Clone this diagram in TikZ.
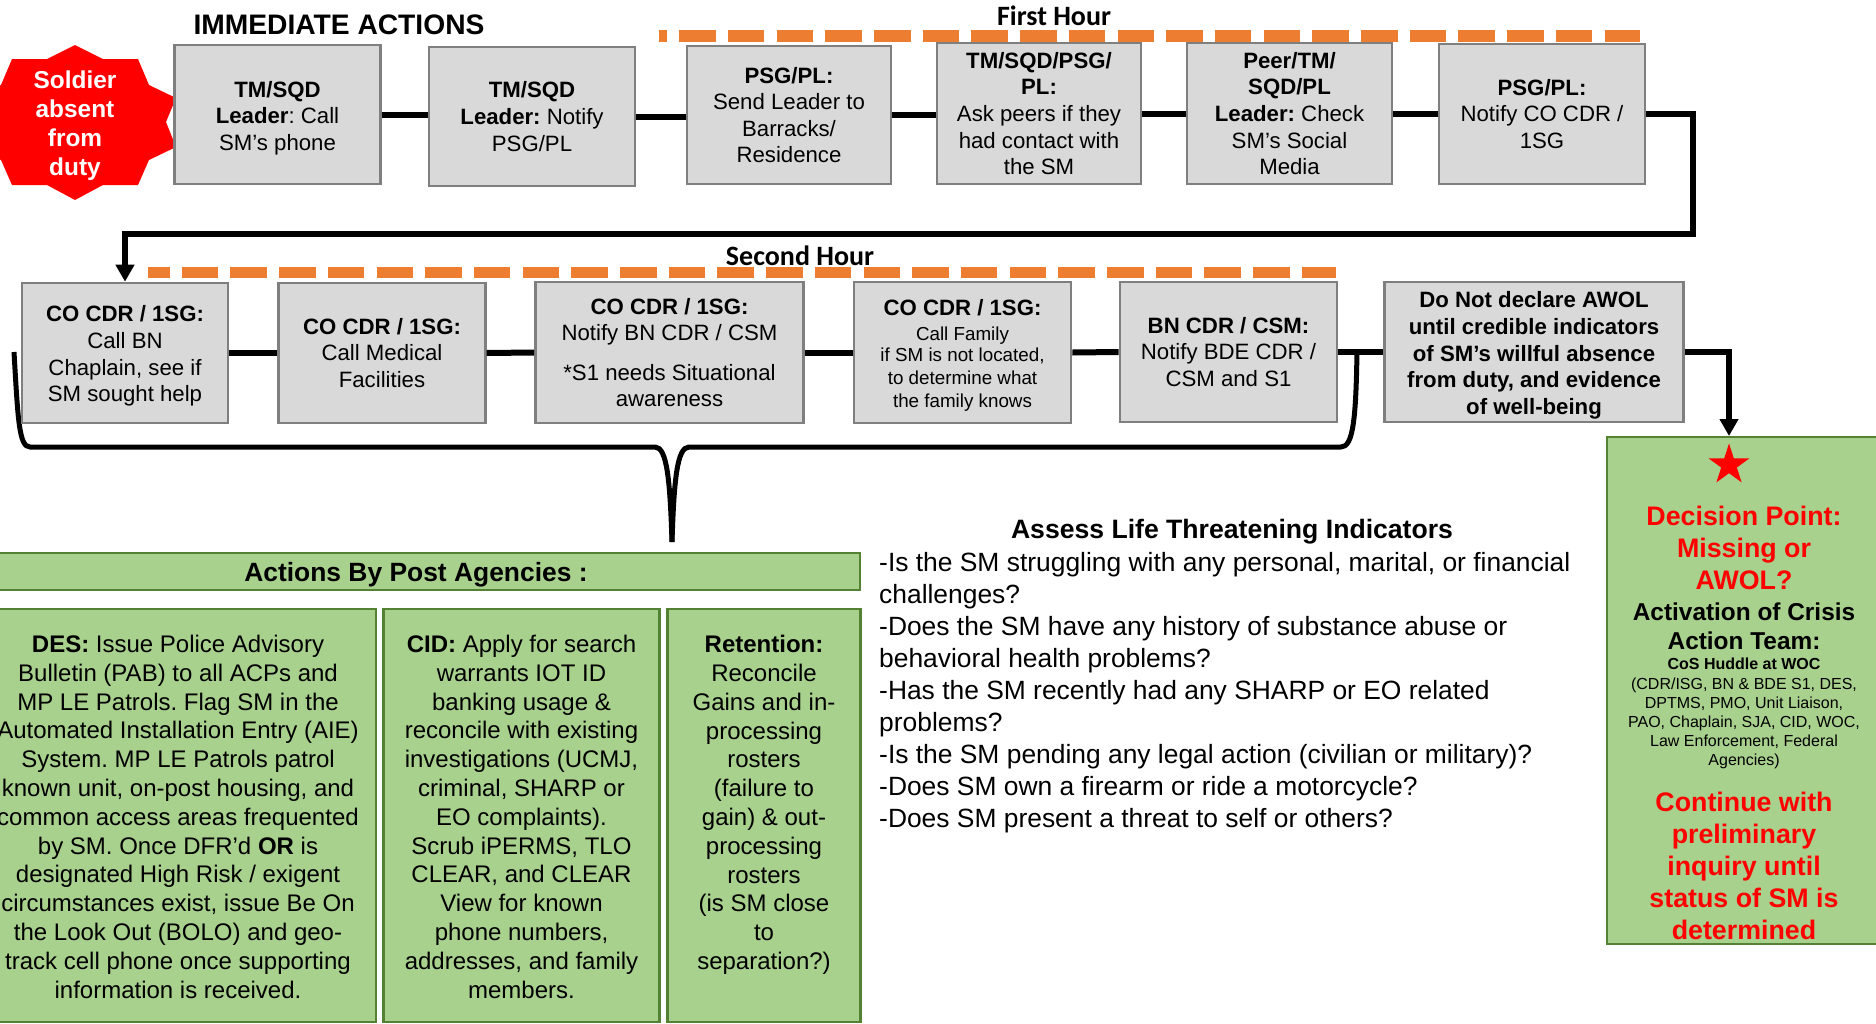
\documentclass[tikz,border=0pt]{standalone}
\usepackage{fontspec}
\setmainfont{Liberation Sans}
\newfontfamily\cali{Carlito}
\usetikzlibrary{arrows.meta,shapes.geometric}
\newcommand{\fs}[2]{\fontsize{#1}{#2}\selectfont}
\newcommand{\dn}[1]{\rule{0pt}{#1pt}}
\newcommand{\sm}{\fs{18.8}{22.2}}
\newcommand{\rd}{\bfseries\color{red}\fs{26.8}{32}}
\newcommand{\bk}{\bfseries\fs{24.4}{28.7}}
\newcommand{\ti}{\fs{16}{19.2}}
\definecolor{boxfill}{HTML}{D9D9D9}
\definecolor{boxline}{HTML}{7F7F7F}
\definecolor{grn}{HTML}{A9D18E}
\definecolor{grnline}{HTML}{548235}
\definecolor{orng}{HTML}{ED7D31}
\tikzset{
  graybox/.style={draw=boxline,fill=boxfill,line width=2.6pt,inner sep=0pt,align=center,font=\fs{22.2}{26.6}},
  greenbox/.style={draw=grnline,fill=grn,line width=2.6pt,inner sep=0pt,align=center,font=\fs{24}{28.8}},
  link/.style={line width=6pt,black},
  arrowlink/.style={line width=6pt,black,-{Triangle[width=18pt,length=17pt]}},
  brace/.style={line width=5pt,black},
  timebar/.style={line width=11.5pt,orng},
  title/.style={font=\cali\bfseries\fs{28}{30},inner sep=0pt},
}
\begin{document}
\frenchspacing
\begin{tikzpicture}[x=1pt,y=-1pt]
\path[use as bounding box,clip] (0,0) rectangle (1876,1023);
% time bars
\draw[timebar,dash pattern=on 36.5pt off 12.2pt,dash phase=28pt] (658.5,36) coordinate (ta) -- (1640,36) coordinate (tb);
\draw[timebar,dash pattern=on 36.5pt off 12.2pt,dash phase=15pt] (148,272.5) coordinate (tc) -- (1336,272.5) coordinate (td);
\node[title] (first) at (1054,16) {First Hour};
\node[title] (second) at (800,256) {Second Hour};
\node[inner sep=0pt,font=\bfseries\fs{28.2}{30}] (imm) at (339,25) {IMMEDIATE ACTIONS};
% seal
\fill[red] (75,45)--(103,59)--(138,59)--(149,85)--(176,98)--(166,122)--(176,147)--(149,160)--(138,185)--(103,185)--(75,200)--(47,185)--(12,185)--(1,160)--(-26,147)--(-16,122)--(-26,98)--(1,85)--(12,59)--(47,59)--cycle;
\node[inner sep=0pt,align=center,text=white,font=\bfseries\fs{24.4}{29}] (seal) at (75,126) {Soldier\\absent\\from\\duty};
% named helpers
\coordinate (turn) at (1693,234);
\coordinate (darr) at (1729,436);
\coordinate (bl) at (14,352);
\coordinate (br) at (1357,350);
\coordinate (btip) at (672,542);
% brace
\draw[brace,line join=round] (bl) .. controls (18,420) and (19,447) .. (30,447) -- (655,447) .. controls (667,447) and (670,480) .. (btip);
\draw[brace,line join=round] (br) .. controls (1356,420) and (1353,447) .. (1341,447) -- (689,447) .. controls (677,447) and (674,480) .. (btip);
% first row
\node[graybox,minimum width=205.5pt,minimum height=139pt] (a1) at (277.5,114.5) {\dn{23}\textbf{TM/SQD}\\\textbf{Leader}: Call\\SM’s phone};
\node[graybox,minimum width=206pt,minimum height=139pt] (a2) at (532,116.5) {\textbf{TM/SQD}\\\textbf{Leader:} Notify\\PSG/PL};
\node[graybox,minimum width=204pt,minimum height=138pt] (a3) at (789,115) {\textbf{PSG/PL:}\\Send Leader to\\Barracks/\\Residence};
\node[graybox,minimum width=204pt,minimum height=141pt] (a4) at (1039,113.5) {\textbf{TM/SQD/PSG/}\\\textbf{PL:}\\Ask peers if they\\had contact with\\the SM};
\node[graybox,minimum width=205pt,minimum height=141pt] (a5) at (1289.5,113.5) {\textbf{Peer/TM/}\\\textbf{SQD/PL}\\\textbf{Leader:} Check\\SM’s Social\\Media};
\node[graybox,minimum width=206pt,minimum height=140pt] (a6) at (1542,114) {\textbf{PSG/PL:}\\Notify CO CDR /\\1SG};
% second row
\node[graybox,minimum width=206pt,minimum height=140pt] (b1) at (125,353) {\dn{22}\textbf{CO CDR / 1SG:}\\Call BN\\Chaplain, see if\\SM sought help};
\node[graybox,minimum width=206.5pt,minimum height=140pt] (b2) at (382,353) {\textbf{CO CDR / 1SG:}\\Call Medical\\Facilities};
\node[graybox,minimum width=268pt,minimum height=141pt] (b3) at (669.5,352.5) {\textbf{CO CDR / 1SG:}\\Notify BN CDR / CSM\\[13pt]*S1 needs Situational\\awareness};
\node[graybox,minimum width=217pt,minimum height=141pt] (b4) at (962.5,352.5) {\dn{21}\textbf{CO CDR / 1SG:}\\[-1.5pt]\sm Call Family\\[-5pt]\sm if SM is not located,\\[-4pt]\sm to determine what\\[-4pt]\sm the family knows};
\node[graybox,minimum width=217pt,minimum height=140pt] (b5) at (1228.5,352) {\textbf{BN CDR / CSM:}\\Notify BDE CDR /\\CSM and S1};
\node[graybox,minimum width=298.5pt,minimum height=140pt,font=\bfseries\fs{22.2}{26.6}] (b6) at (1534,352) {\dn{23}Do Not declare AWOL\\until credible indicators\\of SM’s willful absence\\from duty, and evidence\\of well-being};
% decision
\node[greenbox,minimum width=274pt,minimum height=507pt] (dec) at (1744,690.5) {};
\node[star,star points=5,star point ratio=2.618,fill=red,inner sep=0pt,minimum size=43pt] (dstar) at (1729,465) {};
\node[inner sep=0pt,align=center,font=\fs{24}{32}] (dtext) at (1744,723) {%
\rd Decision Point:\\\rd Missing or\\\rd AWOL?\\[-1pt]
\bk Activation of Crisis\\[-3.3pt]\bk Action Team:\\[-11.5pt]
\bfseries\ti CoS Huddle at WOC\\[-12.8pt]
\ti (CDR/ISG, BN \& BDE S1, DES,\\[-12.8pt]\ti DPTMS, PMO, Unit Liaison,\\[-12.8pt]\ti PAO, Chaplain, SJA, CID, WOC,\\[-12.8pt]\ti Law Enforcement, Federal\\[-12.8pt]\ti Agencies)\\[13.5pt]
\rd Continue with\\\rd preliminary\\\rd inquiry until\\\rd status of SM is\\\rd determined};
% post agencies
\node[greenbox,minimum width=888pt,minimum height=37pt,font=\bfseries\fs{26.4}{30}] (head) at (416,571.5) {\dn{25}Actions By Post Agencies :};
\node[greenbox,minimum width=396pt,minimum height=413pt] (des) at (178,815.5) {\dn{20}\textbf{DES:} Issue Police Advisory\\Bulletin (PAB) to all ACPs and\\MP LE Patrols. Flag SM in the\\Automated Installation Entry (AIE)\\System. MP LE Patrols patrol\\known unit, on-post housing, and\\common access areas frequented\\by SM. Once DFR’d \textbf{OR} is\\designated High Risk / exigent\\circumstances exist, issue Be On\\the Look Out (BOLO) and geo-\\track cell phone once supporting\\information is received.};
\node[greenbox,minimum width=275.5pt,minimum height=413pt] (cid) at (521.5,815.5) {\dn{20}\textbf{CID:} Apply for search\\warrants IOT ID\\banking usage \&\\reconcile with existing\\investigations (UCMJ,\\criminal, SHARP or\\EO complaints).\\Scrub iPERMS, TLO\\CLEAR, and CLEAR\\View for known\\phone numbers,\\addresses, and family\\members.};
\node[greenbox,minimum width=192.5pt,minimum height=413pt] (ret) at (764,815.5) {\dn{20}\textbf{Retention:}\\Reconcile\\Gains and in-\\processing\\rosters\\(failure to\\gain) \& out-\\processing\\rosters\\(is SM close\\to\\separation?)\\~};
% questions
\node[inner sep=0pt,font=\bfseries\fs{26.6}{30}] (qhead) at (1232,532) {Assess Life Threatening Indicators};
\node[anchor=north west,inner sep=0pt,align=left,font=\fs{26.4}{32}] (qs) at (879,552) {-Is the SM struggling with any personal, marital, or financial\\challenges?\\-Does the SM have any history of substance abuse or\\behavioral health problems?\\-Has the SM recently had any SHARP or EO related\\problems?\\-Is the SM pending any legal action (civilian or military)?\\-Does SM own a firearm or ride a motorcycle?\\-Does SM present a threat to self or others?};
% links between boxes
\draw[link] (a1.east) -- (a1.east -| a2.west);
\draw[link] (a2.east) -- (a2.east -| a3.west);
\draw[link] (a3.east) -- (a3.east -| a4.west);
\draw[link] (a4.east) -- (a4.east -| a5.west);
\draw[link] (a5.east) -- (a5.east -| a6.west);
\draw[arrowlink] (a6.east) -| (turn) -| (b1.north);
\draw[link] (b1.east) -- (b2.west);
\draw[link] (b2.east) -- (b3.west);
\draw[link] (b3.east) -- (b4.west);
\draw[link] (b4.east) -- (b5.west);
\draw[link] (b5.east) -- (b6.west);
\draw[arrowlink] (b6.east) -| (darr);
\end{tikzpicture}
\end{document}
